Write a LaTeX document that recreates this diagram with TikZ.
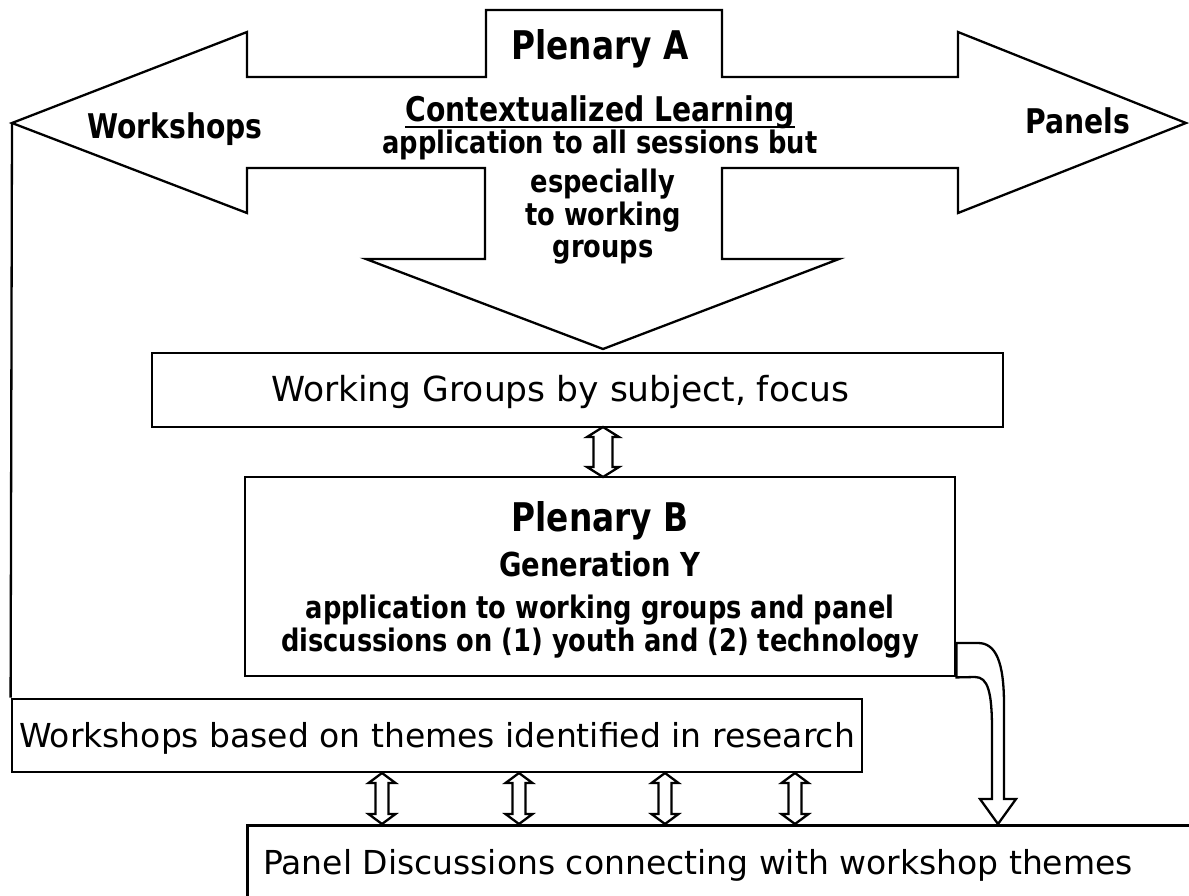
\documentclass[tikz,border=0pt]{standalone}
\usepackage{fontspec}
\setmainfont{DejaVu Sans}
\newfontfamily\bfam{DejaVu Sans}[FakeStretch=0.83]
\usetikzlibrary{calc}
\tikzset{
  outl/.style={draw=black, line width=2.3pt, line join=miter, fill=white},
  boxnode/.style={draw=black, line width=2.8pt, fill=white, inner sep=0pt},
  txt/.style={inner sep=0pt, anchor=base, text=black},
  bftext/.style={font=\bfam\bfseries\fontsize{#1}{#1}\selectfont},
  rgtext/.style={font=\fontsize{#1}{#1}\selectfont},
}
% double block arrow: x, ytop, ybottom, head half-width, shaft half-width, head length
\newcommand\dblarr[6]{%
  \draw[outl] (#1,#2) -- ({#1+#4},{#2+#6}) -- ({#1+#5},{#2+#6}) -- ({#1+#5},{#3-#6})
    -- ({#1+#4},{#3-#6}) -- (#1,#3) -- ({#1-#4},{#3-#6}) -- ({#1-#5},{#3-#6})
    -- ({#1-#5},{#2+#6}) -- ({#1-#4},{#2+#6}) -- cycle;}
\begin{document}
\begin{tikzpicture}[x=1pt,y=-1pt]
\useasboundingbox (0,0) rectangle (1189,895);
\clip (0,0) rectangle (1189,895);
\fill[white] (0,0) rectangle (1189,895);

% Plenary A: combined arrow shape
\draw[outl] (486,10) -- (722,10) -- (722,77) -- (958,77) -- (958,32)
  -- (1186,123) coordinate (tipR) -- (958,213) -- (958,168) -- (722,168)
  -- (722,259) -- (839,259) -- (603,349) coordinate (tipD) -- (366,259)
  -- (485,259) -- (485,168) -- (247,168) -- (247,213)
  -- (12,123) coordinate (tipL) -- (247,32) -- (247,77) -- (486,77) -- cycle;

\node[txt, bftext=39.5] (plA) at (600,59) {Plenary A};
\node[txt, bftext=34] (ctx) at (600,121) {Contextualized Learning};
\draw[line width=2pt] ($(ctx.base west)+(0,6)$) -- ($(ctx.base east)+(0,6)$);
\node[txt, bftext=31] (appA1) at (600,153) {application to all sessions but};
\node[txt, bftext=31] (appA2) at (603,192) {especially};
\node[txt, bftext=31] (appA3) at (603,225) {to working};
\node[txt, bftext=31] (appA4) at (603,257) {groups};
\node[txt, bftext=34] (wsl) at (175,138) {Workshops};
\node[txt, bftext=34] (pnl) at (1078,133) {Panels};

% Working groups box
\node[boxnode, minimum width=851pt, minimum height=74pt] (wg) at (577.5,390) {};
\node[txt, rgtext=34.5] (wgt) at (560,401) {Working Groups by subject, focus};

% Plenary B box
\node[boxnode, minimum width=710pt, minimum height=199pt] (pb) at (600,576.5) {};
\node[txt, bftext=39.5] (plB) at (600,531) {Plenary B};
\node[txt, bftext=33] (genY) at (600,576) {Generation Y};
\node[txt, bftext=31] (appB1) at (600,618) {application to working groups and panel};
\node[txt, bftext=31] (appB2) at (600,651) {discussions on (1) youth and (2) technology};

% Workshops box
\node[boxnode, minimum width=850pt, minimum height=73pt] (ws) at (437,735.5) {};
\node[txt, rgtext=33] (wst) at (437,747) {Workshops based on themes identified in research};

% Panel discussions box (runs past the right and bottom edges)
\node[boxnode, minimum width=980pt, minimum height=110pt, anchor=north west] (pd) at (246,824) {};
\node[txt, rgtext=33] (pdt) at (698,874) {Panel Discussions connecting with workshop themes};

% connector: Workshops arrow tip down to the workshops box
\draw[line width=2.3pt] (tipL) -- (ws.north west);

% double block arrows
\dblarr{603}{427}{477}{16}{9.5}{10}
\dblarr{382}{773}{824}{13.5}{6.5}{10}
\dblarr{519}{773}{824}{13.5}{6.5}{10}
\dblarr{665}{773}{824}{13.5}{6.5}{10}
\dblarr{795}{773}{824}{13.5}{6.5}{10}

% bent arrow from Plenary B to Panel discussions
\draw[outl] (pb.east |- 0,643) -- (978,643) .. controls (996,643) and (1004,662) .. (1004,705)
  -- (1004,799) -- (1016,799) -- (998,824) -- (980,799) -- (992,799) -- (992,730)
  .. controls (992,692) and (988,677) .. (975,677) -- (pb.south east) -- cycle;
\end{tikzpicture}
\end{document}
